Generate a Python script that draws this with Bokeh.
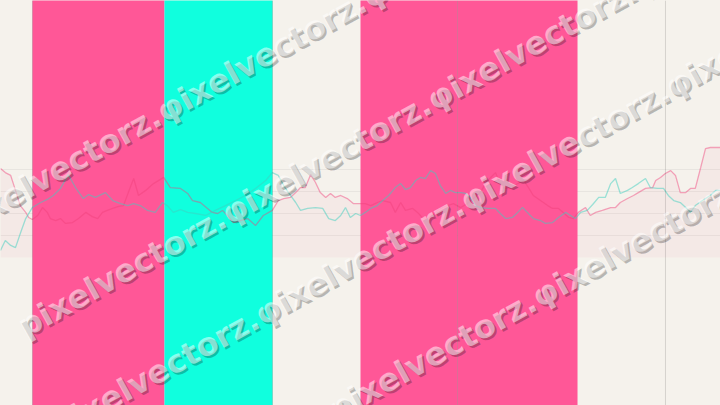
from bokeh.plotting import figure
from bokeh.models import Range1d, FixedTicker, Span, Label, ColumnDataSource, GlobalInlineStyleSheet
from bokeh.embed import file_html
from bokeh.resources import INLINE

# ---------------- data ----------------
pink_t = [0, 0.8, 1.7, 2.5, 3.3, 4.2, 4.7, 5.3, 6.2, 7.0, 7.8, 8.3, 9.2, 10.0, 10.8, 12.0, 13.0, 14.2,
          15.3, 16.2, 17.0, 17.8, 18.7, 19.7, 20.5, 21.3, 22.2, 23.0, 24.2, 25.5, 27.2, 28.3, 30.0, 31.2,
          32.0, 33.3, 34.5, 35.3, 36.2, 37.0, 37.8, 38.8, 40.0, 41.2, 42.5, 43.8, 45.3, 46.3, 47.2, 48.3,
          49.2, 50.0, 50.8, 51.7, 52.5, 53.3, 54.2, 55.0, 55.8, 56.7, 57.8, 58.8, 60.0, 60.8, 61.7, 62.8,
          63.7, 65.0, 65.8, 66.7, 67.5, 68.7, 69.5, 70.3, 71.2, 72.2, 73.3, 74.5, 75.5, 76.7, 77.8, 78.8,
          80.0, 80.8, 81.7, 82.5, 83.0, 83.8, 85.0, 86.2, 87.2, 88.0, 88.8, 90.0, 91.2, 92.0, 93.0, 93.8,
          94.7, 95.5, 96.3, 97.5, 98.3, 99.2, 100.3, 101.7, 102.5, 103.3, 104.5, 105.5, 106.3, 107.5,
          108.7, 109.2, 110.0, 110.8, 111.7, 112.5, 113.3, 114.2, 115.0, 115.8, 116.7, 117.5, 118.3, 120.0]
pink_v = [40.5, 38.6, 37.3, 30.5, 23.6, 20.5, 18.2, 17.3, 19.1, 22.7, 20.5, 17.7, 16.8, 17.7, 15.5, 15.9,
          17.7, 20.5, 18.6, 17.7, 20.5, 21.4, 22.3, 23.2, 23.6, 29.5, 35.9, 28.2, 30.5, 33.6, 36.4, 31.8,
          31.4, 29.1, 25.9, 25.0, 22.3, 20.5, 20.0, 21.4, 19.1, 15.9, 16.8, 17.7, 14.5, 19.1, 21.4, 25.9,
          26.8, 27.3, 29.5, 31.8, 31.8, 37.7, 34.1, 29.5, 27.3, 29.1, 27.3, 28.2, 26.8, 24.5, 24.5, 24.5,
          23.6, 25.0, 25.9, 25.0, 20.5, 25.0, 21.4, 22.3, 20.5, 18.2, 17.7, 20.0, 22.3, 23.6, 24.5, 22.7,
          24.5, 26.8, 29.5, 33.6, 36.4, 38.6, 35.0, 31.8, 31.4, 33.6, 35.0, 31.8, 28.2, 25.9, 23.6, 22.3,
          22.3, 20.5, 18.2, 17.7, 20.5, 22.7, 19.1, 20.5, 21.4, 22.7, 22.7, 25.0, 26.8, 28.2, 29.5, 31.4,
          31.8, 35.0, 36.4, 38.2, 39.5, 37.3, 29.5, 29.5, 31.4, 31.4, 40.9, 49.5, 50.0, 50.0]

teal_t = [0, 0.8, 1.7, 2.5, 3.3, 4.2, 5.3, 6.7, 7.8, 8.8, 10.0, 11.3, 12.5, 13.8, 14.7, 15.8, 17.5, 18.7,
          20.0, 21.2, 22.2, 23.3, 24.5, 25.8, 27.0, 27.8, 28.8, 30.0, 31.2, 32.5, 34.2, 35.8, 37.5, 39.2,
          40.8, 42.5, 44.2, 45.3, 46.3, 47.2, 48.0, 49.2, 50.0, 51.2, 52.5, 53.7, 54.7, 55.8, 56.7, 57.5,
          58.3, 59.2, 60.0, 60.8, 61.7, 62.8, 63.7, 64.7, 65.8, 66.7, 67.5, 68.3, 69.2, 70.0, 70.8, 71.7,
          72.5, 73.3, 74.2, 75.0, 75.8, 76.7, 77.5, 78.3, 79.2, 80.0, 81.2, 82.5, 83.3, 84.2, 85.3, 86.2,
          87.0, 87.8, 88.8, 90.0, 90.8, 92.0, 93.0, 94.2, 95.0, 95.8, 96.7, 97.8, 98.7, 99.7, 100.8, 101.7,
          102.5, 103.3, 104.5, 105.3, 106.3, 107.5, 108.3, 109.5, 110.5, 111.3, 112.2, 113.3, 114.2, 115.0,
          115.8, 117.0, 118.3, 119.2, 120.0]
teal_v = [3.2, 7.7, 5.5, 4.5, 10.9, 17.7, 22.7, 25.0, 26.4, 28.2, 31.4, 37.7, 31.8, 26.8, 28.6, 27.3, 29.5,
          25.9, 24.5, 23.6, 24.5, 23.6, 21.4, 20.5, 25.0, 23.6, 20.5, 21.8, 20.5, 20.0, 19.1, 21.4, 23.6,
          25.9, 28.2, 31.4, 35.0, 38.6, 37.3, 32.7, 29.5, 25.0, 21.4, 22.3, 22.7, 22.3, 17.7, 16.8, 19.1,
          22.7, 18.2, 20.0, 19.1, 20.5, 22.3, 23.6, 25.9, 28.2, 31.8, 33.6, 30.9, 31.8, 35.0, 36.4, 35.9,
          39.5, 38.2, 32.7, 29.1, 30.5, 29.5, 29.5, 29.1, 27.3, 23.6, 22.7, 22.3, 22.3, 20.0, 17.7, 18.2,
          20.5, 22.7, 20.5, 17.7, 16.8, 15.5, 15.9, 18.2, 20.5, 19.1, 17.7, 20.5, 21.4, 24.1, 27.3, 27.3,
          33.6, 35.9, 29.1, 30.5, 31.8, 33.6, 35.9, 31.8, 31.4, 31.4, 28.2, 25.9, 25.0, 22.7, 20.5, 23.6,
          25.9, 28.2, 30.5, 30.5]

band_start = [5.33, 27.33, 60.0, 76.17]
band_end = [27.33, 45.33, 76.17, 96.17]
band_color = ["#FF5797", "#10FFDE", "#FF5797", "#FF5797"]
marker_t = [5.33, 45.33, 76.17, 110.83]
grid_ticks = [10, 20, 30, 40]
baseline = [0.0] * len(pink_t)
watermark_first = "pixelvectorz."
watermark_next = "φixelvectorz."

BG = "#F5F2EC"
W, H = 720, 405

p = figure(width=W, height=H, output_backend="svg", toolbar_location=None,
           x_range=Range1d(0, 120), y_range=Range1d(-67.27, 116.82),
           min_border=0, background_fill_color=BG, border_fill_color=BG,
           outline_line_color=None)
p.axis.visible = False
p.xgrid.grid_line_color = None
p.ygrid.ticker = FixedTicker(ticks=grid_ticks)
p.ygrid.grid_line_color = "#000000"
p.ygrid.grid_line_alpha = 0.05

# tint under pink series
p.varea(x=pink_t, y1=pink_v, y2=baseline, fill_color="#F0487F", fill_alpha=0.05)

# bands
bsrc = ColumnDataSource(dict(left=band_start, right=band_end, color=band_color))
p.quad(left="left", right="right", bottom=-1000, top=1000, source=bsrc,
       fill_color="color", line_color=None)

# lines
p.line(pink_t, pink_v, line_color="#F0407A", line_width=1.3, line_alpha=0.45)
p.line(teal_t, teal_v, line_color="#3FCFC0", line_width=1.3, line_alpha=0.5)

for m in marker_t:
    p.add_layout(Span(location=m, dimension="height", line_color="#000000",
                      line_alpha=0.13, line_width=1))

# watermark rows: start point (page px from top-left)
row_starts = [(-45, 226), (20, 328), (53, 429), (125, 525)]
row_text = watermark_first + watermark_next * 5
ANG = 29
for (xr, yr) in row_starts:
    xs, ys = xr, H - yr
    p.add_layout(Label(x=xs + 2, y=ys - 2, x_units="screen", y_units="screen", text=row_text,
                       angle=ANG, angle_units="deg", text_font="DejaVu Sans", text_font_style="bold",
                       text_font_size="32px", text_color="#000000", text_alpha=0.25,
                       text_baseline="alphabetic"))
    p.add_layout(Label(x=xs, y=ys, x_units="screen", y_units="screen", text=row_text,
                       angle=ANG, angle_units="deg", text_font="DejaVu Sans", text_font_style="bold",
                       text_font_size="32px", text_color="#FFFFFF", text_alpha=0.5,
                       text_baseline="alphabetic"))

p.stylesheets = [GlobalInlineStyleSheet(css="html, body { background-color: #F5F2EC; }")]

open("out.html", "w").write(file_html(p, INLINE))
